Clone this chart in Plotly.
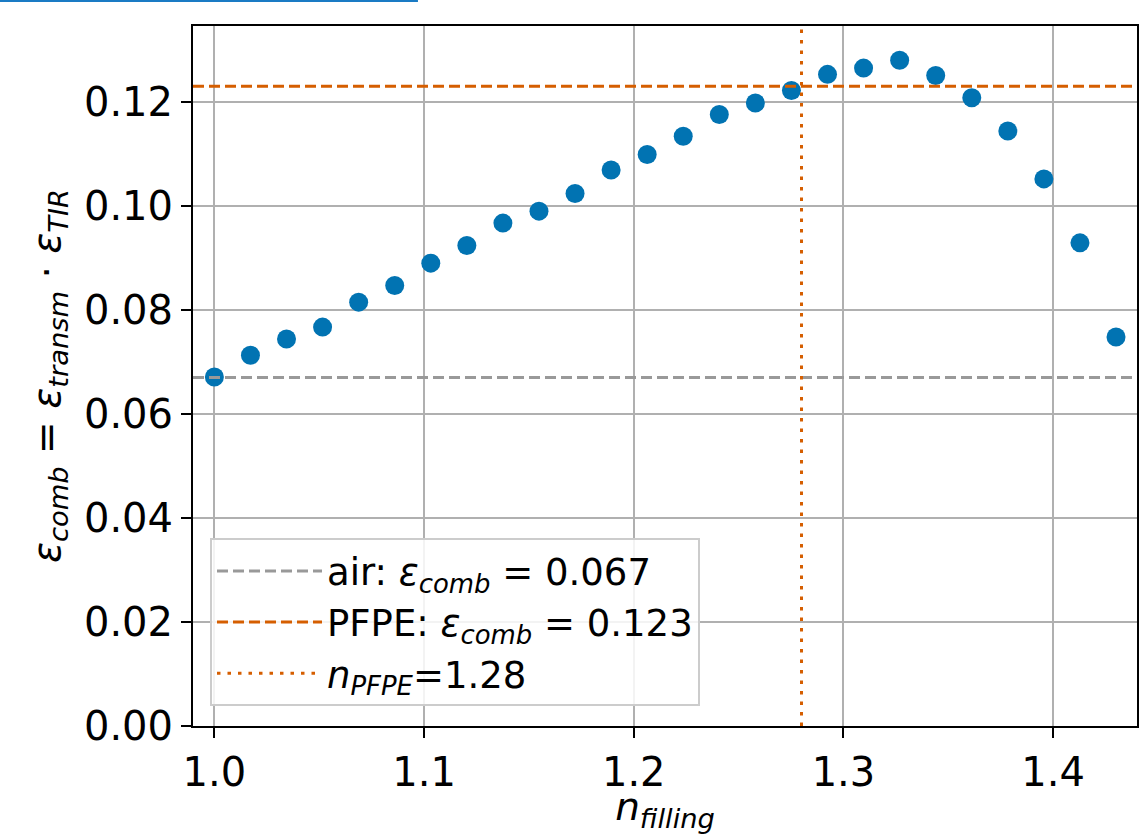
import plotly.graph_objects as go

# data
n_filling = [1.0, 1.0172, 1.0344, 1.0516, 1.0688, 1.086, 1.1032, 1.1204, 1.1376, 1.1548,
             1.172, 1.1892, 1.2064, 1.2236, 1.2408, 1.258, 1.2752, 1.2924, 1.3096, 1.3268,
             1.344, 1.3612, 1.3784, 1.3956, 1.4128, 1.43]
eps_comb = [0.0671, 0.0713, 0.0744, 0.0767, 0.0815, 0.0847, 0.0890, 0.0924, 0.0967, 0.0990,
            0.1024, 0.1069, 0.1099, 0.1134, 0.1176, 0.1198, 0.1222, 0.1253, 0.1265, 0.1280,
            0.1251, 0.1208, 0.1144, 0.1052, 0.0929, 0.0748]
eps_air = 0.067
eps_pfpe = 0.123
n_pfpe = 1.28
x_ticks = [1.0, 1.1, 1.2, 1.3, 1.4]
y_ticks = [0.00, 0.02, 0.04, 0.06, 0.08, 0.10, 0.12]

BLUE = "#0173B2"
ORANGE = "#D55E00"
GREY = "#999999"
FONT = "DejaVu Sans"

fig = go.Figure()
fig.add_trace(go.Scatter(x=n_filling, y=eps_comb, mode="markers",
                         marker=dict(color=BLUE, size=19, line=dict(width=0)),
                         showlegend=False))

fig.add_hline(y=eps_air, line=dict(color=GREY, width=3, dash="11px,5px"),
              showlegend=True, name="air: <i>ε</i><sub><i>comb</i></sub> = 0.067",
              legendrank=1, layer="above")
fig.add_hline(y=eps_pfpe, line=dict(color=ORANGE, width=3, dash="11px,5px"),
              showlegend=True, name="PFPE: <i>ε</i><sub><i>comb</i></sub> = 0.123",
              legendrank=2, layer="above")
fig.add_vline(x=n_pfpe, line=dict(color=ORANGE, width=3, dash="3.5px,7px"),
              showlegend=True, name="<i>n</i><sub><i>PFPE</i></sub>=1.28",
              legendrank=3, layer="above")

# top-left blue line artifact
fig.add_shape(type="line", xref="paper", yref="paper",
              x0=-0.2045, x1=0.2383, y0=1.0357, y1=1.0357,
              line=dict(color="#1a7bc4", width=2))

axis_common = dict(showline=True, linecolor="black", linewidth=2, mirror=True,
                   ticks="outside", ticklen=10, tickwidth=2, tickcolor="black",
                   showgrid=True, gridcolor="#b0b0b0", gridwidth=2, zeroline=False,
                   automargin=False,
                   tickfont=dict(family=FONT, size=40, color="black"))

fig.update_xaxes(range=[0.9898, 1.4400], tickvals=x_ticks,
                 ticktext=[f"{v:.1f}" for v in x_ticks],
                 title=dict(text="<i>n</i><sub><i>filling</i></sub>",
                            font=dict(family=FONT, size=39, color="black"), standoff=0),
                 **axis_common)
fig.update_yaxes(range=[0, 0.1346], tickvals=y_ticks,
                 ticktext=[f"{v:.2f}" for v in y_ticks],
                 title=dict(text="<i>ε</i><sub><i>comb</i></sub> = <i>ε</i><sub><i>transm</i></sub> · <i>ε</i><sub><i>TIR</i></sub>",
                            font=dict(family=FONT, size=39, color="black"), standoff=11),
                 **axis_common)

fig.update_layout(
    width=1143, height=834,
    margin=dict(l=193, r=6, t=26, b=108, autoexpand=False),
    plot_bgcolor="white", paper_bgcolor="white",
    font=dict(family=FONT, color="black"),
    legend=dict(x=0.018, y=0.028, xanchor="left", yanchor="bottom",
                bgcolor="rgba(255,255,255,0.85)", bordercolor="#cccccc", borderwidth=2,
                font=dict(family=FONT, size=37, color="black"),
                itemwidth=105, tracegroupgap=0),
)

fig.write_html("out.html", config={"displayModeBar": False},
               post_script="document.body.style.margin='0px';")
